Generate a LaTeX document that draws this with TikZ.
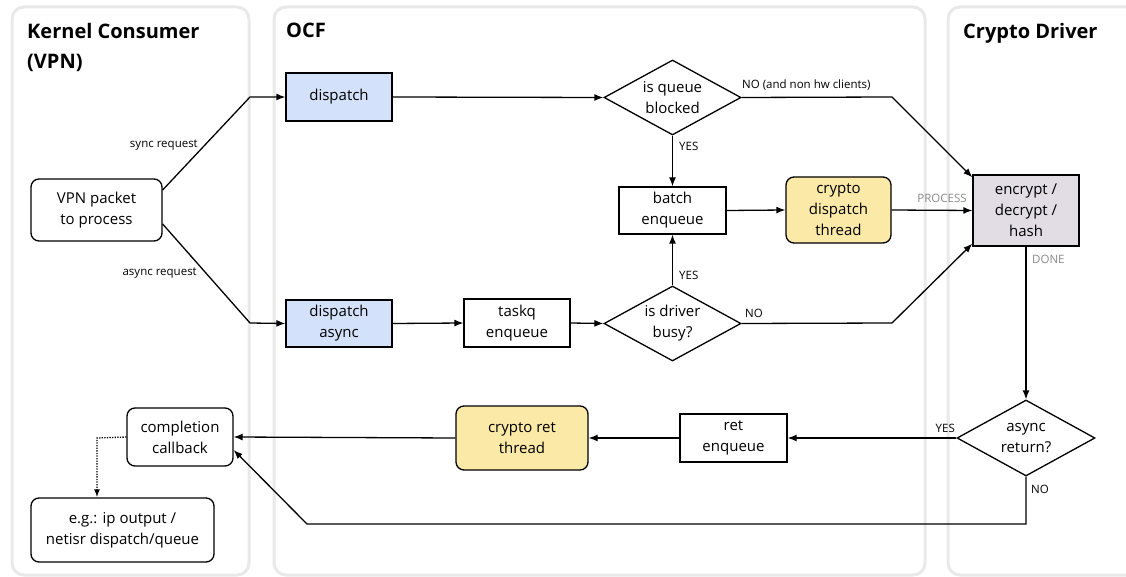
\documentclass[tikz,border=0pt]{standalone}
\usepackage{fontspec}
\setmainfont{Open Sans}
\usetikzlibrary{shapes.geometric,arrows.meta,calc}
\definecolor{bluefill}{RGB}{211,225,250}
\definecolor{yellowfill}{RGB}{251,233,167}
\definecolor{grayfill}{RGB}{226,221,228}
\definecolor{panelgray}{RGB}{233,233,233}
\definecolor{lblgray}{RGB}{138,138,138}
\begin{document}
\begin{tikzpicture}[x=1pt,y=-1pt,
  box/.style={draw, line width=1.3pt, font=\fontsize{15}{21}\selectfont, align=center, inner sep=0pt},
  rbox/.style={box, rounded corners=8pt},
  dia/.style={box, diamond, aspect=1.83, minimum width=137pt, minimum height=75pt},
  lbl/.style={font=\fontsize{11.5}{13}\selectfont, inner sep=0pt},
  glbl/.style={lbl, text=lblgray},
  title/.style={font=\fontsize{20}{30}\selectfont\bfseries, align=left, inner sep=0pt},
  arr/.style={line width=1.3pt, -{Latex[length=9pt,width=7pt]}},
  panel/.style={draw=panelgray, line width=3pt, rounded corners=12pt}]
\useasboundingbox (0,0) rectangle (1126,577);
\fill[white] (0,0) rectangle (1126,577);
% panels
\draw[panel] (12,7) rectangle (249,575);
\draw[panel] (274,7) rectangle (925,575);
\draw[panel] (948,7) rectangle (1145,575);
% titles
\node[title, anchor=north west] (t1) at (27,23) {Kernel Consumer\\(VPN)};
\node[title, anchor=north west] (t2) at (286,23) {OCF};
\node[title, anchor=north west] (t3) at (963,23) {Crypto Driver};
% nodes
\node[rbox, minimum width=131pt, minimum height=62pt] (vpn) at (96.5,210) {VPN packet\\to process};
\node[box, fill=bluefill, minimum width=106pt, minimum height=48pt] (disp) at (339,97) {dispatch};
\node[box, fill=bluefill, minimum width=106pt, minimum height=47pt] (dispa) at (339,323.5) {dispatch\\async};
\node[box, minimum width=106pt, minimum height=48pt] (taskq) at (517,323) {taskq\\enqueue};
\node[dia] (qb) at (672.5,97.5) {is queue\\blocked};
\node[dia] (db) at (672.5,323.5) {is driver\\busy?};
\node[box, minimum width=107pt, minimum height=47pt] (batch) at (672.5,210.5) {batch\\enqueue};
\node[rbox, fill=yellowfill, minimum width=105pt, minimum height=66pt] (cdt) at (838.5,210) {crypto\\dispatch\\thread};
\node[box, fill=grayfill, minimum width=106pt, minimum height=71pt] (enc) at (1026,210.5) {encrypt /\\decrypt /\\hash};
\node[dia, minimum width=138pt, minimum height=76pt] (ar) at (1026,438) {async\\return?};
\node[box, minimum width=107pt, minimum height=48pt] (ret) at (733.5,438) {ret\\enqueue};
\node[rbox, fill=yellowfill, minimum width=132pt, minimum height=64pt] (crt) at (522,438) {crypto ret\\thread};
\node[rbox, minimum width=106pt, minimum height=58pt] (comp) at (180,437) {completion\\callback};
\node[rbox, minimum width=183pt, minimum height=64pt] (eg) at (122.5,530) {e.g.: ip output /\\netisr dispatch/queue};
% bend coordinates
\coordinate (b1) at (250,97);
\coordinate (b2) at (250,323);
\coordinate (b3) at (892,97);
\coordinate (b4) at (892,323);
\coordinate (b5) at (1026,524);
\coordinate (b6) at (307,524);
\coordinate (b7) at (97,438);
% connectors
\draw[arr] ([yshift=20pt]vpn.east) -- (b1) -- (disp.west);
\draw[arr] ([yshift=-14pt]vpn.east) -- (b2) -- (dispa.west);
\draw[arr] (disp.east) -- (qb.west);
\draw[arr] (qb.east) -- (b3) -- ([yshift=-3pt]enc.north west);
\draw[arr] (qb.south) -- (batch.north);
\draw[arr] (batch.east) -- (cdt.west);
\draw[arr] (cdt.east) -- (enc.west);
\draw[arr] (dispa.east) -- (taskq.west);
\draw[arr] (taskq.east) -- (db.west);
\draw[arr] (db.north) -- (batch.south);
\draw[arr] (db.east) -- (b4) -- ([yshift=3pt]enc.south west);
\draw[arr] (enc.south) -- (ar.north);
\draw[arr] (ar.west) -- (ret.east);
\draw[arr] (ret.west) -- (crt.east);
\draw[arr] (crt.west) -- (comp.east);
\draw[arr] (ar.south) -- (b5) -- (b6) -- ([yshift=-13pt]comp.east);
\draw[line width=1.3pt, dash pattern=on 1.3pt off 1.3pt, -{Latex[length=8pt,width=6pt]}] (comp.west) -- (b7) -- (eg.north -| b7);
% labels
\node[lbl, anchor=east] (l1) at (198,145) {sync request};
\node[lbl, anchor=east] (l2) at (197,273) {async request};
\node[lbl, anchor=west] (l3) at (742,85) {NO (and non hw clients)};
\node[lbl, anchor=west] (l4) at (679,146) {YES};
\node[lbl, anchor=west] (l5) at (679,275) {YES};
\node[lbl, anchor=west] (l6) at (745,313) {NO};
\node[glbl] (l7) at (942,198) {PROCESS};
\node[glbl, anchor=west] (l8) at (1032,259) {DONE};
\node[lbl, anchor=east] (l9) at (955,428) {YES};
\node[lbl, anchor=west] (l10) at (1031,489) {NO};
\end{tikzpicture}
\end{document}
